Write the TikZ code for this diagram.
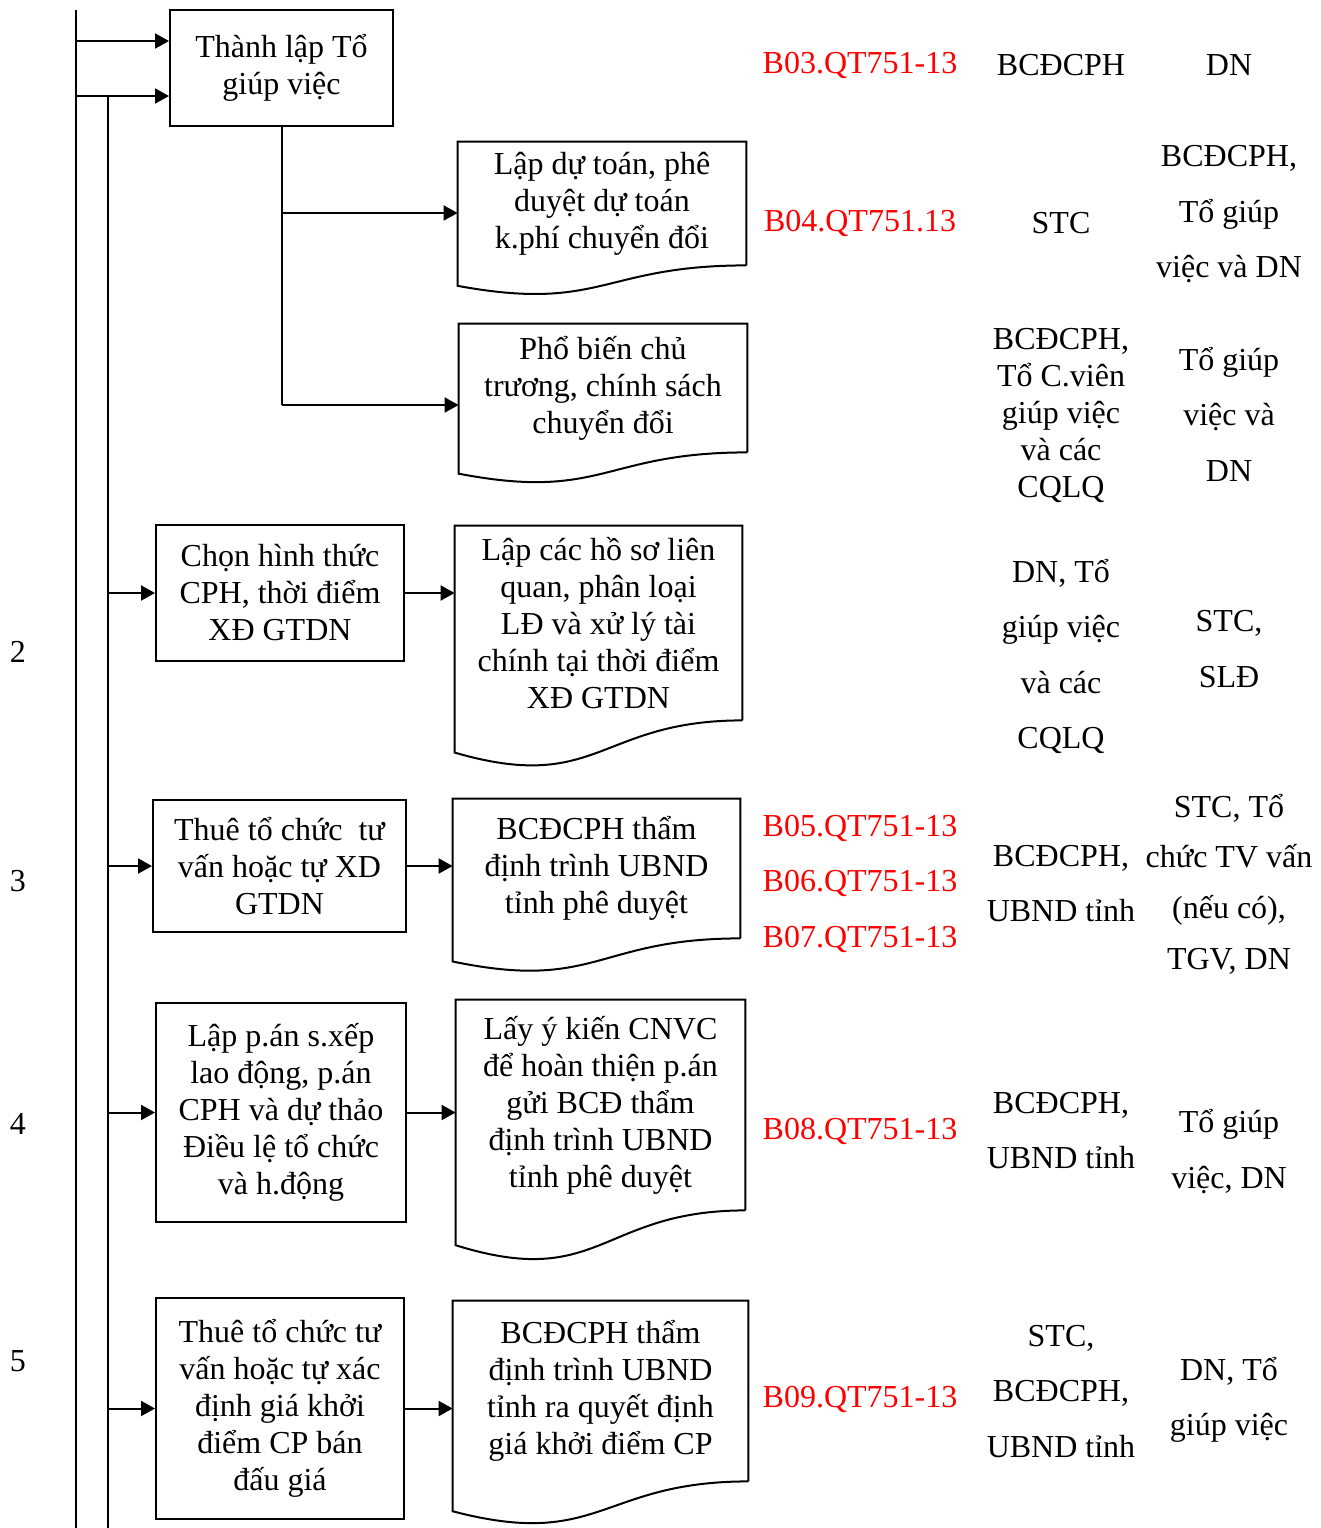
\documentclass[tikz,border=0pt]{standalone}
\usepackage{fontspec}
\setmainfont{Liberation Serif}
\usetikzlibrary{arrows.meta,calc}

\tikzset{
	stepbox/.style={draw, line width=1pt, align=center, inner sep=0pt, font=\fontsize{16}{18.5}\selectfont},
	docbox/.style={align=center, inner sep=0pt, font=\fontsize{16}{18.5}\selectfont},
	arr/.style={line width=1pt, -{Triangle[length=7pt,width=7.5pt]}},
	code/.style={text=red, align=center, font=\fontsize{16}{27.75}\selectfont},
	who/.style={align=center, font=\fontsize{16}{27.75}\selectfont},
	whotight/.style={align=center, font=\fontsize{16}{18.5}\selectfont},
}

% document-shaped outline round a named node
\newcommand{\docoutline}[1]{%
	\draw[line width=1pt] (#1.south east) -- (#1.north east) -- (#1.north west)
		-- ($(#1.south west)!-0.165!(#1.north west)$)
		.. controls ($(#1.south)!-0.38!(#1.north)$) and (#1.south) .. (#1.south east);}

\begin{document}
\begin{tikzpicture}[x=0.5pt,y=-0.5pt]
		\useasboundingbox (0,0) rectangle (1321,1528);
		% rails on the left
		\coordinate (railtop) at (76,10);
		\coordinate (railbot) at (76,1528);
		\coordinate (trunktop) at (108,96);
		\coordinate (trunkbot) at (108,1528);
		\coordinate (j1) at (76,41);
		\coordinate (j2) at (76,96);
		\draw[line width=1pt] (railtop) -- (railbot);
		\draw[line width=1pt] (trunktop) -- (trunkbot);

		% step numbers
		\node[font=\fontsize{16}{18.5}\selectfont] (n2) at (18,652) {2};
		\node[font=\fontsize{16}{18.5}\selectfont] (n3) at (18,881) {3};
		\node[font=\fontsize{16}{18.5}\selectfont] (n4) at (18,1124) {4};
		\node[font=\fontsize{16}{18.5}\selectfont] (n5) at (18,1361) {5};

		% process boxes
		\node[stepbox, minimum width=111.5pt, minimum height=58pt] (box1) at (281.5,68) {Thành lập Tổ\\giúp việc};
		\node[stepbox, minimum width=124pt, minimum height=68pt] (box2) at (280,593) {Chọn hình thức\\CPH, thời điểm\\XĐ GTDN};
		\node[stepbox, minimum width=126.5pt, minimum height=66pt] (box3) at (279.5,866) {Thuê tổ chức~ tư\\vấn hoặc tự XD\\GTDN};
		\node[stepbox, minimum width=125pt, minimum height=109.5pt] (box4) at (281,1112.5) {Lập p.án s.xếp\\lao động, p.án\\CPH và dự thảo\\Điều lệ tổ chức\\và h.động};
		\node[stepbox, minimum width=124pt, minimum height=110.5pt] (box5) at (280,1408.5) {Thuê tổ chức tư\\vấn hoặc tự xác\\định giá khởi\\điểm CP bán\\đấu giá};

		% document boxes
		\node[docbox, minimum width=144pt, minimum height=61.5pt] (docA) at (602,203.5) {Lập dự toán, phê\\duyệt dự toán\\k.phí chuyển đổi};
		\node[docbox, minimum width=144pt, minimum height=64pt] (docB) at (603,388) {Phổ biến chủ\\trương, chính sách\\chuyển đổi};
		\node[docbox, minimum width=143.5pt, minimum height=97pt] (docC) at (598.5,623) {Lập các hồ sơ liên\\quan, phân loại\\LĐ và xử lý tài\\chính tại thời điểm\\XĐ GTDN};
		\node[docbox, minimum width=143.5pt, minimum height=69.5pt] (docD) at (596.5,868.5) {BCĐCPH thẩm\\định trình UBND\\tỉnh phê duyệt};
		\node[docbox, minimum width=144.5pt, minimum height=105pt] (docE) at (600.5,1105) {Lấy ý kiến CNVC\\để hoàn thiện p.án\\gửi BCĐ thẩm\\định trình UBND\\tỉnh phê duyệt};
		\node[docbox, minimum width=147.5pt, minimum height=90pt] (docF) at (600.5,1391) {BCĐCPH thẩm\\định trình UBND\\tỉnh ra quyết định\\giá khởi điểm CP};
		\docoutline{docA}
		\docoutline{docB}
		\docoutline{docC}
		\docoutline{docD}
		\docoutline{docE}
		\docoutline{docF}

		% connectors
		\draw[arr] (j1) -- (j1 -| box1.west);
		\draw[arr] (j2) -- (j2 -| box1.west);
		\path (box1.south) ++(0,86) coordinate (bA);
		\path (box1.south) ++(0,278) coordinate (bB);
		\draw[line width=1pt] (box1.south) -- (bB);
		\draw[arr] (bA) -- (bA -| docA.west);
		\draw[arr] (bB) -- (bB -| docB.west);
		\foreach \b/\d in {box2/docC, box3/docD, box4/docE, box5/docF} {
			\draw[arr] (\b.west -| trunktop) -- (\b.west);
			\draw[arr] (\b.east) -- (\b.east -| \d.west);
		}

		% form codes
		\node[code] (c1) at (860,65) {B03.QT751-13};
		\node[code] (c2) at (860,223) {B04.QT751.13};
		\node[code] (c3) at (860,883.5) {B05.QT751-13\\B06.QT751-13\\B07.QT751-13};
		\node[code] (c4) at (860,1131) {B08.QT751-13};
		\node[code] (c5) at (860,1399) {B09.QT751-13};

		% who carries out
		\node[who] (w1) at (1061,65) {BCĐCPH};
		\node[who] (w2) at (1061,223) {STC};
		\node[whotight] (w3) at (1061,415) {BCĐCPH,\\Tổ C.viên\\giúp việc\\và các\\CQLQ};
		\node[who] (w4) at (1061,656.5) {DN, Tổ\\giúp việc\\và các\\CQLQ};
		\node[who] (w5) at (1061,883.5) {BCĐCPH,\\UBND tỉnh};
		\node[who] (w6) at (1061,1130.5) {BCĐCPH,\\UBND tỉnh};
		\node[who] (w7) at (1061,1391.5) {STC,\\BCĐCPH,\\UBND tỉnh};

		% who coordinates
		\node[who] (p1) at (1229,65) {DN};
		\node[who] (p2) at (1229,214.5) {BCĐCPH,\\Tổ giúp\\việc và DN};
		\node[who] (p3) at (1229,414) {Tổ giúp\\việc và\\DN};
		\node[who] (p4) at (1229,649) {STC,\\SLĐ};
		\node[who, font=\fontsize{16}{25.3}\selectfont] (p5) at (1229,884) {STC, Tổ\\chức TV vấn\\(nếu có),\\TGV, DN};
		\node[who] (p6) at (1229,1151.5) {Tổ giúp\\việc, DN};
		\node[who] (p7) at (1229,1400) {DN, Tổ\\giúp việc};
\end{tikzpicture}
\end{document}
